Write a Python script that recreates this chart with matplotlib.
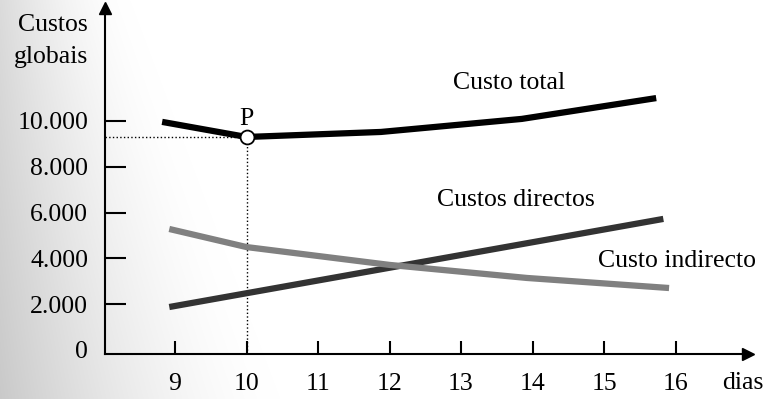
import numpy as np
import matplotlib
matplotlib.use("Agg")
import matplotlib.pyplot as plt

# Days on the horizontal axis and value ticks on the vertical axis
dias = [9, 10, 11, 12, 13, 14, 15, 16]
y_ticks = [0, 2000, 4000, 6000, 8000, 10000]
y_tick_labels = ["0", "2.000", "4.000", "6.000", "8.000", "10.000"]

# Cost curves (day, cost)
total_x = [8.82, 10, 11.88, 13.85, 15.73]
total_y = [9960, 9300, 9520, 10090, 11000]

directos_x = [8.92, 15.83]
directos_y = [1870, 5720]

indirecto_x = [8.92, 10, 12, 13.92, 15.91]
indirecto_y = [5280, 4490, 3710, 3140, 2700]

# Optimum point P
p_x, p_y = 10, 9300

W, H, DPI = 767, 399, 100
FS = 18.5
plt.rcParams["font.family"] = ["Liberation Serif", "DejaVu Serif"]
fig = plt.figure(figsize=(W / DPI, H / DPI), dpi=DPI)

# Soft grey-to-white shading from the left edge
xx, yy = np.meshgrid(np.arange(W), np.arange(H))
frac_row = yy / (H - 1)
width = 130 + 150 * frac_row
g0 = 0.86 - 0.07 * frac_row
s = np.clip(xx / width, 0, 1)
g = g0 + (1 - g0) * (1 - (1 - s) ** 1.6)
bg = np.dstack([g, g, g])
fig.figimage(bg, xo=0, yo=0, origin="upper", zorder=0)

# Axes: left spine at x=105px, bottom spine at y=354px (from top)
left_px, right_px = 105, 748
top_px, bottom_px = 8, 354
ax = fig.add_axes([left_px / W, 1 - bottom_px / H,
                   (right_px - left_px) / W, (bottom_px - top_px) / H])
ax.set_zorder(2)
ax.patch.set_alpha(0)

px_per_day = 71.5
val_per_px = 43.7
zero_px = 349.8
ax.set_xlim(9 + (left_px - 175) / px_per_day, 9 + (right_px - 175) / px_per_day)
ax.set_ylim(-(bottom_px - zero_px) * val_per_px, (zero_px - top_px) * val_per_px)

for sp in ["top", "right"]:
    ax.spines[sp].set_visible(False)
for sp in ["left", "bottom"]:
    ax.spines[sp].set_linewidth(1.5)
    ax.spines[sp].set_color("black")

# Arrow heads on the axes
ax.plot(1, 0, marker=">", color="black", markersize=8, transform=ax.transAxes,
        clip_on=False)
ax.plot(0, 1, marker="^", color="black", markersize=8, transform=ax.transAxes,
        clip_on=False)

ax.set_xticks(dias)
ax.set_xticklabels([str(d) for d in dias])
ax.set_yticks(y_ticks)
ax.set_yticklabels(y_tick_labels)
ax.tick_params(axis="x", direction="in", length=9.5, width=1.5, pad=14,
               labelsize=FS)
ax.tick_params(axis="y", direction="in", length=15, width=1.5, pad=12,
               labelsize=FS)
ax.yaxis.get_major_ticks()[0].tick1line.set_visible(False)

# Cost curves
ax.plot(directos_x, directos_y, color="#333333", linewidth=4.5,
        solid_capstyle="butt", zorder=3)
ax.plot(indirecto_x, indirecto_y, color="#808080", linewidth=4.5,
        solid_capstyle="butt", zorder=4)
ax.plot(total_x, total_y, color="black", linewidth=4.5,
        solid_capstyle="butt", zorder=5)

# Dotted guides to P
x0 = ax.get_xlim()[0]
y0 = ax.get_ylim()[0]
ax.plot([x0, p_x], [p_y, p_y], color="black", linestyle=":", linewidth=1.0,
        zorder=2)
ax.plot([p_x, p_x], [y0, p_y], color="black", linestyle=":", linewidth=1.0,
        zorder=2)
ax.plot(p_x, p_y, marker="o", markersize=10, markerfacecolor="white",
        markeredgecolor="black", markeredgewidth=1.3, zorder=6)
ax.text(p_x, p_y + 300, "P", ha="center", va="bottom", fontsize=FS)

# Curve labels
ax.text(12.89, 11660, "Custo total", ha="left", va="center", fontsize=FS)
ax.text(12.66, 6540, "Custos directos", ha="left", va="center", fontsize=FS)
ax.text(14.92, 3900, "Custo indirecto", ha="left", va="center", fontsize=FS)

# Axis titles
fig.text(88 / W, 1 - 25 / H, "Custos", ha="right", va="center", fontsize=FS)
fig.text(88 / W, 1 - 57 / H, "globais", ha="right", va="center", fontsize=FS)
fig.text(722 / W, 1 - 383 / H, "dias", ha="left", va="center", fontsize=FS)

fig.savefig("out.png", dpi=DPI)
